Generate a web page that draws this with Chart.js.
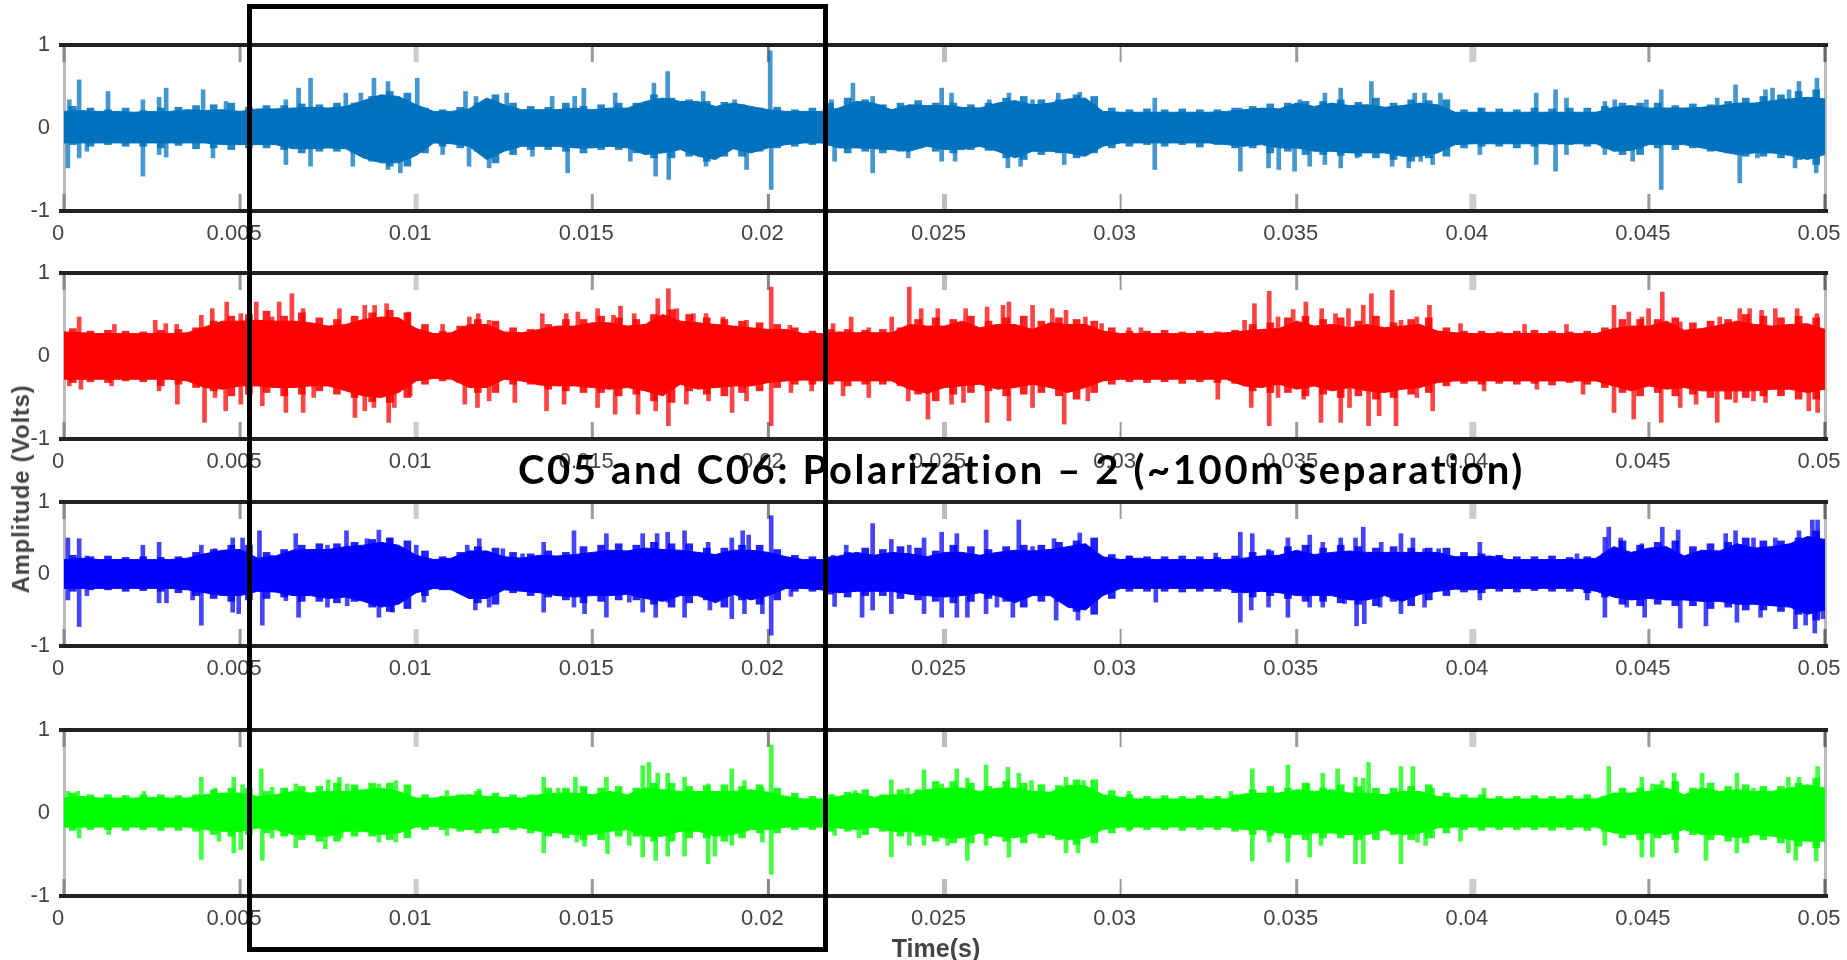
<!DOCTYPE html>
<html>
<head>
<meta charset="utf-8">
<title>C05 and C06</title>
<script src="https://cdn.jsdelivr.net/npm/chart.js@4/dist/chart.umd.min.js"></script>
<style>
html, body { margin: 0; padding: 0; background: #fff; }
body { width: 1847px; height: 960px; position: relative; overflow: hidden; }
canvas { position: absolute; left: 0; filter: blur(0.6px); }
#box { position: absolute; left: 247px; top: 4px; width: 581px; height: 948px; border: 5px solid #000; box-sizing: border-box; }
#title { position: absolute; left: 518px; top: 445px; font: bold 40px Lato, sans-serif; color: #000; white-space: nowrap; letter-spacing: 2.6px; }
#ylabel { position: absolute; left: 21px; top: 489px; transform: translate(-50%, -50%) rotate(-90deg); font: bold 24px "Liberation Sans", sans-serif; color: #444; white-space: nowrap; letter-spacing: 0.7px; filter: blur(0.7px); }
#xlabel { position: absolute; left: 936px; top: 948px; transform: translate(-50%, -50%); font: bold 25px "Liberation Sans", sans-serif; color: #444; white-space: nowrap; filter: blur(0.7px); }
</style>
</head>
<body>
<canvas id="chart0" width="1847" height="236"></canvas>
<canvas id="chart1" width="1847" height="236"></canvas>
<canvas id="chart2" width="1847" height="214"></canvas>
<canvas id="chart3" width="1847" height="236"></canvas>
<div id="box"></div>
<div id="title">C05 and C06: Polarization – 2 (~100m separation)</div>
<div id="ylabel">Amplitude (Volts)</div>
<div id="xlabel">Time(s)</div>
<script>
const xTickLabels = ['0', '0.005', '0.01', '0.015', '0.02', '0.025', '0.03', '0.035', '0.04', '0.045', '0.05'];
const yTickLabels = ['-1', '0', '1'];
const colors = ['#0072BD', '#FF0000', '#0000FF', '#00FF00'];

// solid part of each trace, one value every 0.5 ms
const body1Up = [.2,.21,.2,.2,.19,.2,.2,.22,.21,.22, .2,.23,.23,.24,.25,.24,.26,.33,.4,.38, .28,.2,.2,.23,.36,.28,.22,.22,.22,.24, .22,.24,.24,.32,.36,.32,.32,.26,.3,.26, .22,.2,.2,.2,.24,.32,.3,.22,.28,.27, .27,.25,.24,.3,.33,.28,.3,.35,.36,.2, .19,.19,.19,.19,.19,.19,.2,.22,.24,.23, .3,.26,.3,.27,.28,.25,.27,.3,.28,.19, .19,.19,.19,.19,.19,.19,.19,.19,.25,.27, .24,.24,.24,.25,.27,.3,.3,.33,.35,.37, .35];
const body1Down = [-.18,-.18,-.18,-.18,-.18,-.18,-.18,-.18,-.18,-.2, -.2,-.2,-.2,-.25,-.25,-.24,-.25,-.36,-.42,-.42, -.33,-.18,-.19,-.22,-.38,-.28,-.22,-.22,-.22,-.24, -.24,-.22,-.24,-.32,-.3,-.26,-.34,-.38,-.25,-.3, -.24,-.2,-.18,-.18,-.24,-.24,-.25,-.26,-.28,-.22, -.26,-.26,-.22,-.28,-.36,-.28,-.28,-.3,-.34,-.22, -.18,-.18,-.18,-.18,-.18,-.18,-.2,-.22,-.2,-.24, -.24,-.28,-.28,-.3,-.3,-.3,-.34,-.34,-.3,-.2, -.19,-.19,-.19,-.19,-.19,-.19,-.19,-.19,-.28,-.27, -.2,-.2,-.2,-.24,-.28,-.32,-.3,-.3,-.33,-.38, -.32];
const body2Up = [.29,.28,.27,.27,.27,.27,.27,.28,.35,.42, .42,.43,.42,.42,.4,.36,.38,.44,.47,.46, .33,.27,.28,.38,.38,.29,.28,.32,.36,.36, .4,.4,.36,.38,.5,.42,.4,.38,.36,.34, .32,.32,.27,.27,.29,.28,.28,.28,.38,.36, .36,.42,.34,.38,.38,.32,.4,.38,.38,.3, .27,.27,.27,.27,.27,.27,.28,.3,.32,.33, .42,.36,.38,.34,.38,.34,.36,.38,.3,.28, .27,.27,.27,.27,.27,.27,.27,.27,.33,.36, .36,.42,.31,.33,.37,.42,.38,.36,.38,.39, .32];
const body2Down = [-.28,-.28,-.28,-.28,-.28,-.28,-.28,-.3,-.38,-.4, -.36,-.36,-.38,-.38,-.36,-.36,-.42,-.48,-.5,-.44, -.3,-.27,-.28,-.38,-.38,-.28,-.3,-.35,-.36,-.36, -.38,-.4,-.38,-.42,-.48,-.34,-.4,-.38,-.36,-.36, -.32,-.3,-.29,-.3,-.3,-.3,-.3,-.3,-.4,-.45, -.38,-.36,-.34,-.4,-.38,-.34,-.38,-.44,-.38,-.3, -.28,-.28,-.28,-.28,-.28,-.28,-.28,-.36,-.38,-.34, -.4,-.36,-.42,-.38,-.42,-.44,-.4,-.38,-.32,-.3, -.3,-.3,-.3,-.3,-.3,-.3,-.3,-.3,-.36,-.42, -.36,-.4,-.38,-.42,-.42,-.42,-.42,-.4,-.4,-.44, -.4];
const body3Up = [.2,.22,.2,.2,.2,.2,.2,.22,.28,.33, .34,.22,.25,.33,.34,.34,.38,.4,.44,.4, .26,.2,.22,.32,.32,.24,.22,.26,.25,.27, .3,.33,.32,.36,.34,.33,.3,.27,.33,.33, .3,.24,.2,.2,.25,.3,.26,.3,.28,.24, .3,.3,.26,.3,.33,.32,.34,.38,.42,.24, .2,.22,.2,.2,.2,.2,.2,.22,.25,.26, .33,.27,.3,.32,.3,.3,.3,.3,.3,.24, .24,.25,.2,.2,.2,.2,.2,.22,.38,.3, .36,.38,.25,.33,.32,.42,.36,.38,.42,.52, .48];
const body3Down = [-.2,-.2,-.2,-.2,-.2,-.2,-.2,-.22,-.26,-.3, -.3,-.24,-.25,-.3,-.3,-.34,-.32,-.38,-.46,-.42, -.26,-.2,-.22,-.34,-.34,-.22,-.24,-.26,-.3,-.32, -.3,-.3,-.28,-.34,-.38,-.3,-.3,-.4,-.28,-.36, -.3,-.2,-.2,-.22,-.26,-.24,-.24,-.24,-.28,-.3, -.32,-.3,-.26,-.3,-.4,-.3,-.3,-.46,-.5,-.3, -.2,-.2,-.2,-.2,-.2,-.2,-.2,-.26,-.24,-.26, -.3,-.3,-.3,-.36,-.36,-.3,-.38,-.28,-.24,-.21, -.22,-.2,-.2,-.2,-.2,-.2,-.2,-.24,-.32,-.36, -.34,-.36,-.36,-.38,-.38,-.42,-.42,-.44,-.46,-.56, -.5];
const body4Up = [.18,.2,.18,.18,.18,.19,.18,.18,.22,.24, .24,.2,.22,.26,.24,.26,.26,.28,.3,.26, .18,.18,.2,.22,.2,.19,.18,.22,.24,.24, .22,.26,.22,.3,.28,.26,.26,.26,.26,.28, .25,.2,.17,.17,.2,.24,.19,.22,.22,.28, .3,.3,.26,.3,.3,.26,.25,.33,.33,.22, .19,.17,.17,.17,.17,.17,.17,.23,.24,.24, .28,.26,.28,.24,.24,.22,.26,.26,.2,.18, .18,.17,.17,.17,.17,.17,.17,.17,.24,.24, .26,.3,.22,.3,.26,.28,.26,.26,.3,.34, .3];
const body4Down = [-.17,-.17,-.17,-.17,-.17,-.17,-.17,-.17,-.2,-.22, -.22,-.18,-.2,-.26,-.26,-.28,-.22,-.22,-.26,-.24, -.17,-.16,-.18,-.2,-.19,-.17,-.18,-.22,-.24,-.26, -.26,-.22,-.2,-.28,-.28,-.22,-.22,-.28,-.26,-.2, -.2,-.17,-.17,-.17,-.18,-.2,-.17,-.22,-.22,-.26, -.3,-.3,-.24,-.28,-.3,-.24,-.26,-.32,-.3,-.2, -.17,-.17,-.17,-.17,-.17,-.17,-.17,-.2,-.2,-.24, -.26,-.24,-.24,-.26,-.26,-.2,-.26,-.24,-.18,-.17, -.17,-.17,-.17,-.17,-.17,-.17,-.17,-.17,-.24,-.26, -.24,-.26,-.2,-.26,-.26,-.3,-.26,-.28,-.32,-.34, -.34];

// rough edge of each trace, one value midway between the body values
const fringe1Up = [.26,.24,.22,.24,.21,.24,.25,.27,.28,.3, .25,.27,.27,.29,.28,.3,.3,.38,.44,.42, .24,.22,.25,.3,.4,.3,.26,.25,.3,.26, .28,.3,.3,.4,.36,.34,.32,.31,.28,.24, .25,.22,.24,.3,.36,.34,.28,.3,.33,.3, .3,.28,.3,.36,.38,.34,.34,.4,.38,.24, .22,.23,.22,.23,.22,.22,.24,.26,.29,.3, .32,.32,.34,.31,.36,.3,.34,.33,.34,.22, .24,.23,.22,.24,.23,.24,.24,.26,.3,.3, .3,.27,.29,.28,.32,.36,.38,.4,.44,.46];
const fringe1Down = [-.2,-.22,-.2,-.22,-.22,-.24,-.21,-.25,-.24,-.26, -.24,-.24,-.26,-.3,-.28,-.28,-.3,-.4,-.46,-.46, -.3,-.22,-.24,-.28,-.42,-.32,-.26,-.26,-.28,-.3, -.26,-.26,-.3,-.36,-.36,-.34,-.4,-.34,-.34,-.28, -.24,-.22,-.2,-.21,-.3,-.28,-.3,-.28,-.24,-.28, -.3,-.26,-.27,-.36,-.38,-.32,-.3,-.36,-.3,-.24, -.22,-.2,-.22,-.2,-.23,-.2,-.24,-.24,-.3,-.28, -.32,-.32,-.33,-.34,-.36,-.38,-.4,-.36,-.34,-.24, -.22,-.22,-.24,-.22,-.2,-.2,-.22,-.24,-.32,-.32, -.24,-.26,-.24,-.28,-.3,-.34,-.34,-.36,-.38,-.44];
const fringe2Up = [.33,.3,.31,.3,.29,.31,.32,.34,.42,.48, .5,.54,.48,.52,.46,.44,.48,.52,.55,.52, .38,.3,.36,.44,.42,.34,.32,.38,.44,.44, .48,.46,.44,.5,.56,.5,.46,.44,.42,.4, .38,.34,.3,.32,.32,.31,.32,.34,.44,.46, .44,.48,.42,.46,.48,.42,.46,.44,.42,.34, .3,.3,.31,.29,.3,.29,.31,.38,.4,.46, .48,.44,.46,.42,.48,.4,.44,.46,.34,.3, .3,.29,.3,.31,.3,.29,.3,.34,.44,.44, .44,.46,.4,.42,.44,.5,.48,.46,.48,.46];
const fringe2Down = [-.32,-.31,-.32,-.3,-.31,-.36,-.34,-.38,-.42,-.48, -.46,-.44,-.48,-.46,-.42,-.46,-.5,-.55,-.56,-.5, -.34,-.3,-.32,-.44,-.44,-.34,-.34,-.4,-.42,-.44, -.44,-.48,-.46,-.54,-.56,-.42,-.46,-.48,-.44,-.42, -.38,-.34,-.34,-.34,-.36,-.34,-.34,-.36,-.46,-.54, -.46,-.44,-.42,-.48,-.46,-.44,-.48,-.52,-.44,-.34, -.31,-.32,-.31,-.33,-.31,-.32,-.33,-.42,-.44,-.44, -.48,-.46,-.5,-.48,-.52,-.5,-.46,-.44,-.36,-.33, -.34,-.33,-.34,-.33,-.35,-.32,-.34,-.38,-.44,-.48, -.44,-.48,-.46,-.5,-.52,-.5,-.48,-.48,-.52,-.52];
const fringe3Up = [.26,.24,.25,.23,.24,.23,.24,.3,.34,.4, .4,.3,.34,.4,.42,.42,.44,.48,.5,.46, .32,.24,.3,.38,.36,.3,.28,.32,.3,.38, .4,.42,.4,.44,.42,.42,.36,.36,.4,.4, .34,.26,.24,.24,.3,.36,.34,.38,.36,.32, .4,.38,.34,.38,.4,.4,.44,.46,.5,.27, .25,.24,.24,.25,.24,.23,.25,.3,.32,.38, .4,.36,.4,.38,.36,.38,.36,.36,.36,.3, .28,.26,.24,.24,.25,.23,.24,.28,.46,.4, .44,.46,.38,.42,.44,.5,.46,.46,.5,.6];
const fringe3Down = [-.24,-.22,-.22,-.24,-.23,-.24,-.26,-.3,-.34,-.38, -.36,-.34,-.32,-.38,-.38,-.4,-.38,-.46,-.52,-.48, -.3,-.22,-.26,-.4,-.42,-.26,-.3,-.32,-.36,-.4, -.38,-.36,-.36,-.42,-.46,-.4,-.36,-.46,-.36,-.42, -.36,-.24,-.24,-.28,-.32,-.3,-.3,-.34,-.36,-.38, -.4,-.38,-.34,-.38,-.46,-.38,-.38,-.52,-.56,-.34, -.24,-.24,-.24,-.25,-.24,-.24,-.26,-.32,-.3,-.34, -.38,-.38,-.4,-.42,-.44,-.38,-.44,-.36,-.3,-.25, -.26,-.24,-.25,-.23,-.24,-.24,-.26,-.32,-.42,-.44, -.42,-.44,-.44,-.48,-.46,-.5,-.5,-.52,-.56,-.64];
const fringe4Up = [.24,.22,.22,.21,.22,.22,.21,.22,.28,.3, .3,.26,.3,.32,.32,.36,.34,.36,.36,.34, .22,.2,.22,.26,.24,.22,.22,.3,.3,.32, .3,.32,.3,.36,.36,.32,.33,.34,.32,.34, .3,.24,.2,.22,.25,.28,.22,.28,.28,.38, .38,.36,.32,.38,.36,.34,.33,.4,.4,.27, .22,.2,.21,.2,.21,.2,.22,.28,.32,.3, .36,.3,.34,.32,.3,.3,.32,.34,.24,.22, .22,.2,.2,.21,.2,.21,.22,.2,.3,.3, .34,.38,.3,.36,.32,.34,.32,.32,.36,.42];
const fringe4Down = [-.21,-.2,-.2,-.21,-.2,-.21,-.21,-.22,-.26,-.28, -.26,-.24,-.28,-.32,-.34,-.34,-.28,-.28,-.32,-.3, -.2,-.2,-.22,-.24,-.24,-.2,-.24,-.28,-.3,-.32, -.32,-.28,-.28,-.34,-.34,-.3,-.3,-.34,-.3,-.24, -.24,-.2,-.2,-.22,-.22,-.26,-.22,-.28,-.28,-.34, -.36,-.36,-.3,-.34,-.36,-.3,-.32,-.38,-.36,-.24, -.2,-.2,-.2,-.21,-.2,-.2,-.22,-.26,-.27,-.3, -.32,-.3,-.3,-.32,-.32,-.26,-.32,-.3,-.24,-.2, -.21,-.2,-.2,-.2,-.21,-.2,-.21,-.22,-.3,-.32, -.3,-.32,-.26,-.32,-.34,-.36,-.32,-.36,-.4,-.42];

// spikes sticking out of the trace, times in ms
const peak1UpT = [.15,.43,1.25,2.24,2.7,2.9,3.95,4.6,6.3,6.66,7,8,8.43,8.8,9.2,10.03,11.4,11.7,12.07,12.57,13.86,14.5,14.76,15.65,16.75,17.14,18.15,19.04,20.05,21.79,22.4,22.96,24.92,25.2,26.27,26.83,27.5,28.23,28.84,30.97,33.4,35.09,35.8,36.25,37.12,38.35,38.63,39.08,40.2,41.8,42.35,42.66,43.75,44.03,44.93,45.35,46.94,47.46,48.31,48.51,48.98,49.26,49.77];
const peak1UpV = [.34,.58,.44,.34,.37,.48,.46,.32,.34,.48,.6,.42,.42,.6,.56,.6,.44,.38,.34,.42,.38,.38,.48,.42,.54,.68,.44,.34,.93,.34,.54,.38,.48,.42,.34,.42,.34,.42,.43,.36,.24,.34,.42,.48,.56,.42,.42,.42,.24,.42,.46,.36,.32,.34,.34,.46,.36,.52,.46,.48,.46,.56,.6];
const peak1DownT = [.11,.43,.65,2.24,2.7,2.9,4.23,6.3,7,8.2,9.2,9.55,10.75,11.5,12.07,13.3,14.3,16.08,16.8,17.17,18.23,19.38,20.08,21.88,22.96,23.97,24.92,25.3,26.8,27.16,28.4,28.9,30.97,33.4,34.2,34.49,34.94,35.37,35.8,36.25,36.72,37.71,38.18,38.52,38.86,40.2,41.8,42.35,42.66,43.75,44.54,45.35,47.58,48.08,49.15,49.75];
const peak1DownV = [-.48,-.36,-.28,-.58,-.32,-.35,-.36,-.44,-.46,-.46,-.5,-.54,-.32,-.46,-.48,-.34,-.54,-.4,-.58,-.62,-.46,-.5,-.74,-.4,-.54,-.36,-.4,-.4,-.48,-.46,-.44,-.34,-.5,-.52,-.48,-.5,-.52,-.46,-.44,-.48,-.36,-.46,-.48,-.4,-.44,-.32,-.44,-.52,-.32,-.32,-.4,-.74,-.66,-.36,-.48,-.54];

const peak2UpT = [.43,1.43,2.59,2.89,3.2,3.9,4.21,4.62,5.02,5.46,5.91,6.11,6.47,6.79,7.82,8.54,8.82,9.16,9.78,10.75,11.51,11.76,12.07,13.58,14.26,14.59,15.15,15.6,15.8,16.19,16.86,17.16,17.4,17.87,18.23,18.71,19.38,20.08,20.61,21.84,22.35,22.85,23.5,24,24.34,24.81,25.6,26.21,26.66,26.83,27.5,28.06,28.45,29,29.46,30.24,30.58,33.52,33.8,34.22,34.47,34.9,35.26,35.71,36.1,36.47,36.89,37.12,37.71,37.96,38.41,38.77,39.65,41.47,42.66,44.01,44.43,44.8,44.99,45.38,45.89,47.01,47.58,47.86,48.2,48.59,49.21,49.77];
const peak2UpV = [.47,.38,.43,.39,.38,.49,.57,.65,.51,.65,.47,.65,.75,.57,.57,.61,.61,.63,.53,.38,.47,.51,.43,.51,.51,.53,.57,.49,.6,.51,.69,.81,.57,.51,.51,.47,.43,.83,.37,.39,.47,.34,.47,.83,.57,.57,.57,.59,.61,.65,.61,.57,.55,.47,.39,.34,.34,.43,.63,.78,.47,.56,.65,.57,.51,.57,.61,.75,.79,.43,.47,.61,.39,.38,.38,.61,.53,.47,.57,.77,.41,.47,.57,.57,.55,.57,.57,.51];
const peak2DownT = [.15,.48,1.35,2.7,3.22,3.99,4.29,4.59,5.02,5.63,6.3,6.79,7.09,8.26,8.54,8.8,9.22,9.38,9.83,11.38,11.74,12.07,12.8,13.7,14.2,15.15,15.65,16.3,16.8,17.16,17.67,18.3,18.97,19.38,20.08,20.64,21.23,22.12,22.85,23.97,24.53,25.2,25.54,26.21,26.83,27.5,28.4,29.07,32.76,33.71,34.22,34.47,35.2,35.69,36.25,36.5,37.04,37.34,37.82,38.41,38.86,40.32,41.82,43.13,44.01,44.57,45.35,45.89,46.34,46.94,47.46,47.97,48.31,49.54,49.79];
const peak2DownV = [-.36,-.4,-.36,-.42,-.58,-.8,-.5,-.66,-.58,-.6,-.68,-.68,-.5,-.74,-.66,-.62,-.8,-.62,-.48,-.58,-.62,-.54,-.56,-.66,-.58,-.62,-.7,-.7,-.66,-.84,-.58,-.54,-.68,-.54,-.84,-.44,-.42,-.48,-.5,-.54,-.76,-.58,-.56,-.8,-.78,-.62,-.82,-.54,-.52,-.62,-.84,-.5,-.52,-.8,-.8,-.62,-.84,-.72,-.84,-.5,-.66,-.42,-.4,-.46,-.68,-.76,-.8,-.62,-.58,-.8,-.56,-.54,-.56,-.66,-.68];

const peak3UpT = [.11,.43,.65,2.24,2.7,3.9,4.29,4.79,5.07,5.55,5.91,6.58,7.48,8.02,8.6,8.94,9.27,10,11.45,11.79,12.46,13.02,13.62,14.48,15.4,16.43,16.84,17.14,17.62,18.29,18.96,19.27,19.44,20.08,21.84,22.21,22.96,23.49,24,24.42,24.92,25.35,26.18,27.11,27.5,28.11,28.84,30.24,32.7,33.4,33.74,34.2,34.75,35.37,35.74,36.25,36.67,36.89,37.4,37.96,38.3,38.63,39.03,40.2,40.72,42.96,43.75,43.86,44.2,44.8,45.38,45.83,47.18,47.46,47.97,48.59,49.26,49.64,49.79];
const peak3UpV = [.5,.49,.25,.4,.44,.4,.35,.5,.5,.6,.26,.56,.4,.6,.49,.61,.5,.4,.4,.49,.35,.28,.44,.6,.56,.56,.56,.58,.6,.44,.5,.6,.54,.81,.26,.4,.7,.48,.4,.5,.58,.56,.61,.75,.38,.49,.57,.25,.29,.58,.56,.34,.5,.54,.44,.5,.5,.65,.44,.56,.5,.35,.35,.44,.25,.28,.51,.65,.5,.42,.65,.61,.56,.6,.5,.5,.6,.75,.75];
const peak3DownT = [.11,.43,.65,2.7,2.91,3.65,3.9,4.79,4.96,5.63,6.3,6.66,7.48,8.04,8.94,9.33,10.22,11.68,12.07,13.62,14.48,14.78,15.4,16.05,16.43,16.8,17.14,17.62,18.34,18.96,19.32,19.83,20.08,20.64,21.88,22.66,22.96,23.49,24.42,24.92,25.35,25.65,26.18,26.49,26.94,28.17,28.79,31,33.4,33.71,34.2,34.75,35.37,35.74,36.36,36.7,36.92,37.37,37.96,38.63,40.2,43.25,43.75,44.37,44.88,45.89,46.62,47.5,48.17,49.16,49.45,49.71,49.94];
const peak3DownV = [-.36,-.73,-.3,-.4,-.4,-.36,-.71,-.53,-.55,-.71,-.37,-.6,-.46,-.44,-.6,-.53,-.39,-.5,-.46,-.53,-.46,-.55,-.6,-.39,-.53,-.6,-.39,-.6,-.5,-.62,-.55,-.55,-.85,-.31,-.45,-.6,-.5,-.55,-.55,-.6,-.6,-.6,-.55,-.46,-.6,-.64,-.64,-.39,-.67,-.5,-.46,-.6,-.46,-.46,-.41,-.72,-.69,-.46,-.55,-.46,-.36,-.36,-.6,-.46,-.6,-.75,-.72,-.67,-.6,-.76,-.71,-.82,-.62];

const peak4UpT = [.11,.39,2.27,3.9,4.29,4.82,5.07,5.6,5.91,6.3,6.58,7.5,7.82,8.04,8.26,8.94,9.42,10.87,11.79,13.62,14.03,14.52,14.78,15.4,16.43,16.61,16.86,17.14,17.62,18.29,18.96,19.32,19.83,20.08,21.84,22.46,23.49,23.95,24.42,24.92,25.35,25.65,26.18,26.8,27.11,27.47,28.45,28.95,30.24,33.13,33.74,34.75,35.32,35.74,36.16,36.67,36.89,37.04,37.96,38.3,38.86,40.32,43.86,44.8,45.1,45.38,45.72,46.51,47.5,47.97,48.96,49.26,49.79];
const peak4UpV = [.26,.26,.26,.43,.3,.43,.34,.53,.31,.3,.35,.4,.43,.35,.3,.35,.39,.27,.29,.43,.3,.43,.3,.43,.57,.61,.48,.48,.43,.35,.53,.39,.3,.82,.22,.27,.4,.3,.52,.35,.53,.42,.58,.55,.48,.39,.43,.39,.26,.26,.53,.58,.35,.48,.53,.43,.42,.61,.56,.56,.3,.3,.56,.43,.35,.39,.48,.48,.48,.3,.43,.43,.56];
const peak4DownT = [.43,1.27,3.9,4.4,4.82,5.02,5.63,5.91,6.58,7.42,7.87,8.94,9.42,10.87,13.62,14.56,14.78,15.43,16.05,16.43,16.8,17.14,17.62,18.29,18.48,18.96,19.83,20.08,21.88,22.57,23.49,24,24.42,25.09,25.65,26.18,26.83,28.45,28.79,30.24,33.74,34.22,34.75,35.37,35.69,36.67,36.89,37.96,38.43,38.66,38.86,39.65,43.75,44.8,45.1,45.78,46.62,47.5,48.96,49.17,49.75];
const peak4DownV = [-.3,-.26,-.56,-.34,-.48,-.44,-.57,-.3,-.42,-.43,-.3,-.35,-.35,-.27,-.48,-.35,-.4,-.49,-.39,-.53,-.57,-.52,-.52,-.61,-.52,-.39,-.35,-.74,-.27,-.3,-.53,-.39,-.39,-.39,-.57,-.39,-.53,-.48,-.48,-.22,-.58,-.35,-.59,-.53,-.39,-.61,-.61,-.61,-.35,-.39,-.3,-.34,-.39,-.53,-.53,-.48,-.57,-.48,-.48,-.57,-.58];

const bodiesUp = [body1Up, body2Up, body3Up, body4Up];
const bodiesDown = [body1Down, body2Down, body3Down, body4Down];
const fringesUp = [fringe1Up, fringe2Up, fringe3Up, fringe4Up];
const fringesDown = [fringe1Down, fringe2Down, fringe3Down, fringe4Down];
const peaksUpT = [peak1UpT, peak2UpT, peak3UpT, peak4UpT];
const peaksUpV = [peak1UpV, peak2UpV, peak3UpV, peak4UpV];
const peaksDownT = [peak1DownT, peak2DownT, peak3DownT, peak4DownT];
const peaksDownV = [peak1DownV, peak2DownV, peak3DownV, peak4DownV];

// layout of the four plots, in page pixels
const plotTop = [45, 273, 502, 730];
const plotBottom = [211, 439, 646, 896];
const plotLeft = 64;
const plotRight = 1825;
const marginTop = 20;
const tickShade = ['#888', '#999', '#ccc', '#999', '#888', '#bbb', '#999', '#999', '#ccc', '#999', '#666'];
const tickWidth = [3, 3, 5, 3, 3, 5, 2, 3, 7, 3, 3];

const framePlugin = {
    id: 'frame',
    beforeDatasetsDraw(chart) {
        const ctx = chart.ctx;
        const area = chart.chartArea;
        const x = chart.scales.x;
        ctx.save();
        // pale sides of the axes box
        ctx.fillStyle = '#bbb';
        ctx.fillRect(area.left - 1, area.top, 3, area.height);
        ctx.fillRect(area.right - 1, area.top, 3, area.height);
        // inner ticks, top and bottom
        xTickLabels.forEach((label, i) => {
            let px = x.getPixelForValue(parseFloat(label));
            ctx.fillStyle = tickShade[i];
            ctx.fillRect(px - tickWidth[i] / 2, area.top, tickWidth[i], 17);
            ctx.fillRect(px - tickWidth[i] / 2, area.bottom - 17, tickWidth[i], 17);
        });
        ctx.restore();
    },
    afterDatasetsDraw(chart) {
        const ctx = chart.ctx;
        const area = chart.chartArea;
        ctx.save();
        ctx.fillStyle = '#222';
        ctx.fillRect(area.left - 5, area.top - 2, area.width + 8, 4);
        ctx.fillRect(area.left - 5, area.bottom - 2, area.width + 8, 4);
        ctx.restore();
    }
};

function makePeaks(times, values) {
    return times.map((t, i) => ({ x: t / 1000, y: [0, values[i]] }));
}

function makeFringe(values) {
    return values.map((v, i) => ({ x: (i + 0.5) * 0.0005, y: [0, v] }));
}

function makeBody(values) {
    return values.map((v, i) => ({ x: i * 0.0005, y: v }));
}

function makeChart(i) {
    const canvas = document.getElementById('chart' + i);
    const plotHeight = plotBottom[i] - plotTop[i];
    canvas.height = plotHeight + marginTop + 50;
    canvas.style.top = (plotTop[i] - marginTop) + 'px';
    const color = colors[i];

    new Chart(canvas.getContext('2d'), {
        type: 'bar',
        data: {
            datasets: [
                { type: 'bar', data: makePeaks(peaksUpT[i], peaksUpV[i]), backgroundColor: color + 'bb', barThickness: 4, grouped: false },
                { type: 'bar', data: makePeaks(peaksDownT[i], peaksDownV[i]), backgroundColor: color + 'bb', barThickness: 4, grouped: false },
                { type: 'bar', data: makeFringe(fringesUp[i]), backgroundColor: color + 'dd', barThickness: 7, grouped: false },
                { type: 'bar', data: makeFringe(fringesDown[i]), backgroundColor: color + 'dd', barThickness: 7, grouped: false },
                { type: 'line', data: makeBody(bodiesUp[i]), borderColor: color, backgroundColor: color, borderWidth: 1, pointRadius: 0, tension: 0, fill: '+1' },
                { type: 'line', data: makeBody(bodiesDown[i]), borderColor: color, backgroundColor: color, borderWidth: 1, pointRadius: 0, tension: 0, fill: false }
            ]
        },
        options: {
            responsive: false,
            animation: false,
            events: [],
            layout: { padding: { top: marginTop, right: 1847 - plotRight, left: 0, bottom: 0 } },
            plugins: { legend: { display: false }, tooltip: { enabled: false } },
            scales: {
                x: {
                    type: 'linear',
                    offset: false,
                    min: 0,
                    max: 0.05,
                    // labels may run past the plot, keep the plot where it is
                    afterFit: s => { s.height = 50; s.paddingLeft = 0; s.paddingRight = 0; },
                    grid: { display: false, drawTicks: false },
                    border: { display: false },
                    ticks: {
                        stepSize: 0.005,
                        autoSkip: false,
                        maxRotation: 0,
                        padding: 10,
                        labelOffset: -6,
                        color: '#444',
                        font: { family: 'Liberation Sans', size: 22 },
                        callback: (v, idx) => xTickLabels[idx]
                    }
                },
                y: {
                    min: -1,
                    max: 1,
                    afterFit: s => { s.width = plotLeft; s.paddingTop = 0; s.paddingBottom = 0; },
                    grid: { display: false, drawTicks: false },
                    border: { display: false },
                    ticks: {
                        stepSize: 1,
                        padding: 14,
                        color: '#444',
                        font: { family: 'Liberation Sans', size: 22 },
                        callback: (v, idx) => yTickLabels[idx]
                    }
                }
            }
        },
        plugins: [framePlugin]
    });
}

for (let i = 0; i < 4; i++) {
    makeChart(i);
}
</script>
</body>
</html>
